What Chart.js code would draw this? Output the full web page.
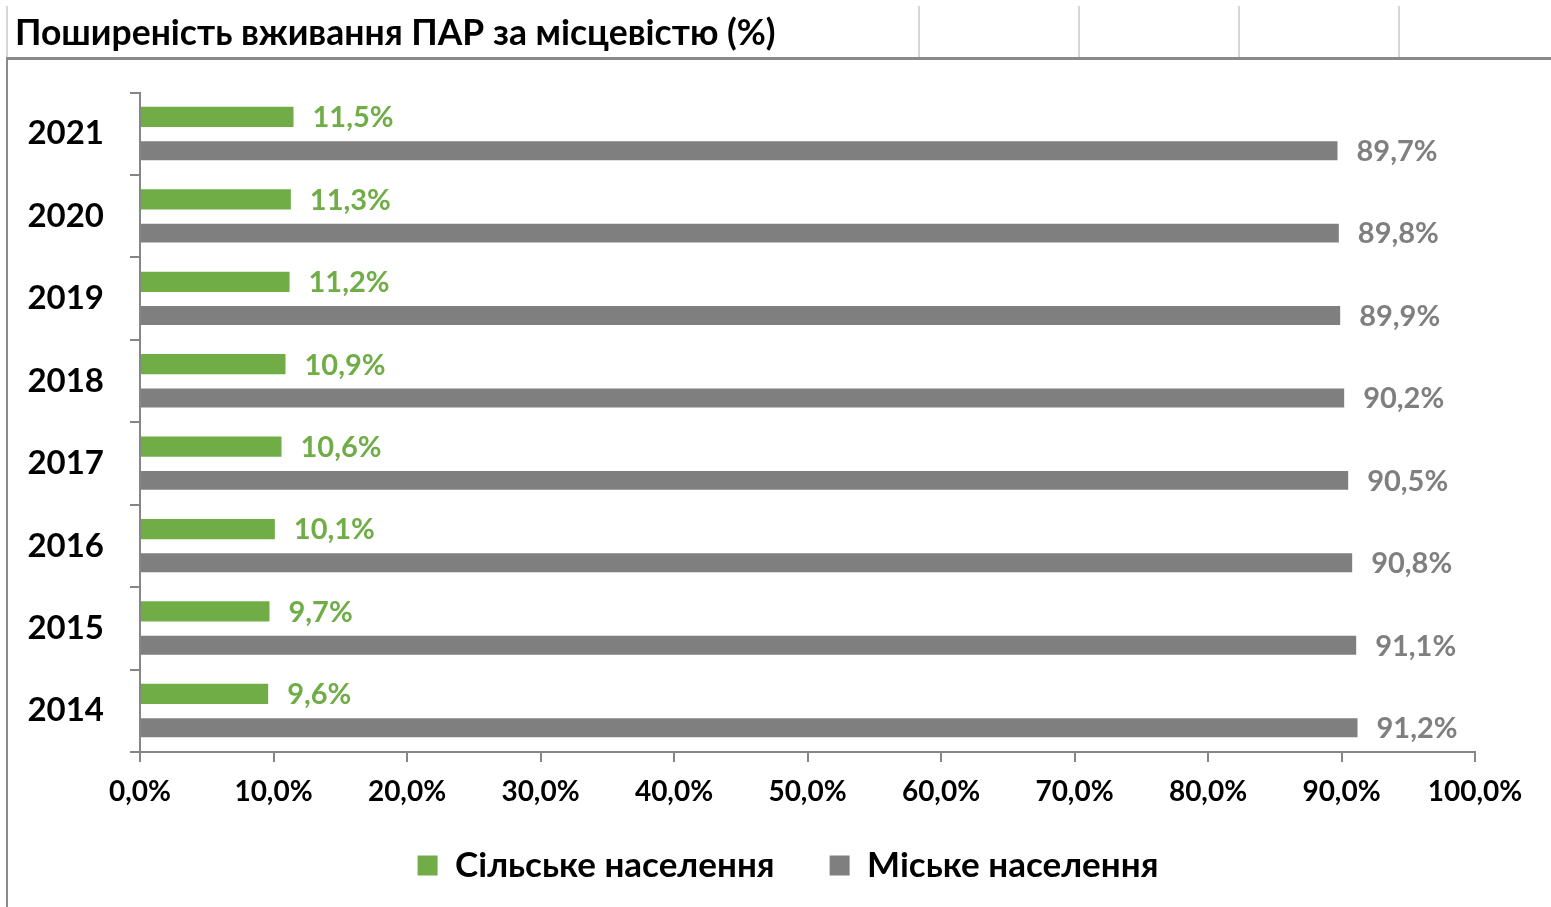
<!DOCTYPE html>
<html>
<head>
<meta charset="utf-8">
<script src="https://cdn.jsdelivr.net/npm/chart.js@4.4.1/dist/chart.umd.min.js"></script>
<style>
  html, body { margin: 0; padding: 0; background: #fff; }
  #wrap { width: 1551px; height: 907px; }
</style>
</head>
<body>
<div id="wrap"><canvas id="chart" width="1551" height="907"></canvas></div>
<script>
// Поширеність вживання ПАР за місцевістю

const titleText = 'Поширеність вживання ПАР за місцевістю (%)';
const years = ['2021', '2020', '2019', '2018', '2017', '2016', '2015', '2014'];
const ruralValues = [11.5, 11.3, 11.2, 10.9, 10.6, 10.1, 9.7, 9.6];
const urbanValues = [89.7, 89.8, 89.9, 90.2, 90.5, 90.8, 91.1, 91.2];
const seriesNames = ['Сільське населення', 'Міське населення'];

const GREEN = '#70ad47';
const GRAY = '#7f7f7f';
const AXIS = '#868686';
const FONT = 'Lato, "Open Sans", sans-serif';

function pct(v) {
  return `${v.toFixed(1).replace('.', ',')}%`;
}

// spreadsheet cell borders around the chart
const sheetFrame = {
  id: 'sheetFrame',
  beforeDraw(chart) {
    const { ctx } = chart;
    ctx.save();
    ctx.fillStyle = '#fff';
    ctx.fillRect(0, 0, chart.width, chart.height);
    ctx.strokeStyle = '#d6d6d6';
    ctx.lineWidth = 2;
    [7, 919, 1079, 1239, 1399].forEach((x) => {
      ctx.beginPath();
      ctx.moveTo(x, 6);
      ctx.lineTo(x, 57);
      ctx.stroke();
    });
    ctx.strokeStyle = '#8a8a8a';
    ctx.lineWidth = 3;
    ctx.beginPath();
    ctx.moveTo(6, 58.5);
    ctx.lineTo(chart.width, 58.5);
    ctx.stroke();
    ctx.lineWidth = 2;
    ctx.beginPath();
    ctx.moveTo(7, 58);
    ctx.lineTo(7, chart.height);
    ctx.stroke();
    ctx.restore();
  },
  // legend sits a bit right of the plot centre, as in the sheet;
  // the x axis box is kept short, so let its labels show below it
  afterLayout(chart) {
    const { legend } = chart;
    legend.left += 43;
    legend.right += 43;
    legend.top += 3;
    legend.bottom += 3;
    chart.scales.x.bottom = legend.bottom;
  },
};

const valueLabels = {
  id: 'valueLabels',
  afterDatasetsDraw(chart) {
    const { ctx } = chart;
    ctx.save();
    ctx.font = `bold 29px ${FONT}`;
    ctx.textAlign = 'left';
    ctx.textBaseline = 'middle';
    chart.data.datasets.forEach((ds, i) => {
      chart.getDatasetMeta(i).data.forEach((bar, j) => {
        ctx.fillStyle = ds.backgroundColor;
        ctx.fillText(pct(ds.data[j]), bar.x + 19, bar.y + 1);
      });
    });
    ctx.restore();
  },
};

const ctx = document.getElementById('chart').getContext('2d');

// eslint-disable-next-line no-unused-vars
const chart = new Chart(ctx, {
  type: 'bar',
  data: {
    labels: years,
    datasets: [
      {
        label: seriesNames[0],
        data: ruralValues,
        backgroundColor: GREEN,
        categoryPercentage: 0.82,
        barPercentage: 0.6,
      },
      {
        label: seriesNames[1],
        data: urbanValues,
        backgroundColor: GRAY,
        categoryPercentage: 0.82,
        barPercentage: 0.56,
      },
    ],
  },
  options: {
    indexAxis: 'y',
    responsive: false,
    animation: false,
    devicePixelRatio: 1,
    layout: {
      padding: { left: 15, right: 76, top: 0, bottom: 17 },
    },
    plugins: {
      title: {
        display: true,
        text: titleText,
        align: 'start',
        color: '#000',
        font: { family: FONT, size: 35.5, weight: 'bold' },
        padding: { top: 12, bottom: 38 },
      },
      legend: {
        position: 'bottom',
        labels: {
          color: '#000',
          font: { family: FONT, size: 35, weight: 'bold' },
          boxWidth: 20,
          boxHeight: 20,
          padding: 55,
        },
      },
      tooltip: { enabled: false },
    },
    scales: {
      x: {
        min: 0,
        max: 100,
        afterFit(scale) {
          scale.height = 38;
          scale.paddingLeft = 0;
          scale.paddingRight = 0;
        },
        border: { color: AXIS, width: 2 },
        grid: {
          drawOnChartArea: false,
          color: AXIS,
          lineWidth: 2,
          tickLength: 10,
        },
        ticks: {
          stepSize: 10,
          maxRotation: 0,
          autoSkip: false,
          padding: 13,
          color: '#000',
          font: { family: FONT, size: 28, weight: 'bold' },
          callback: (v) => pct(v),
        },
      },
      y: {
        afterFit(scale) {
          scale.width = 125;
        },
        border: { color: AXIS, width: 2 },
        grid: {
          drawOnChartArea: false,
          offset: true,
          color: AXIS,
          lineWidth: 2,
          tickLength: 10,
        },
        ticks: {
          padding: 26,
          color: '#000',
          font: { family: FONT, size: 33, weight: 'bold' },
        },
      },
    },
  },
  plugins: [sheetFrame, valueLabels],
});
</script>
</body>
</html>
